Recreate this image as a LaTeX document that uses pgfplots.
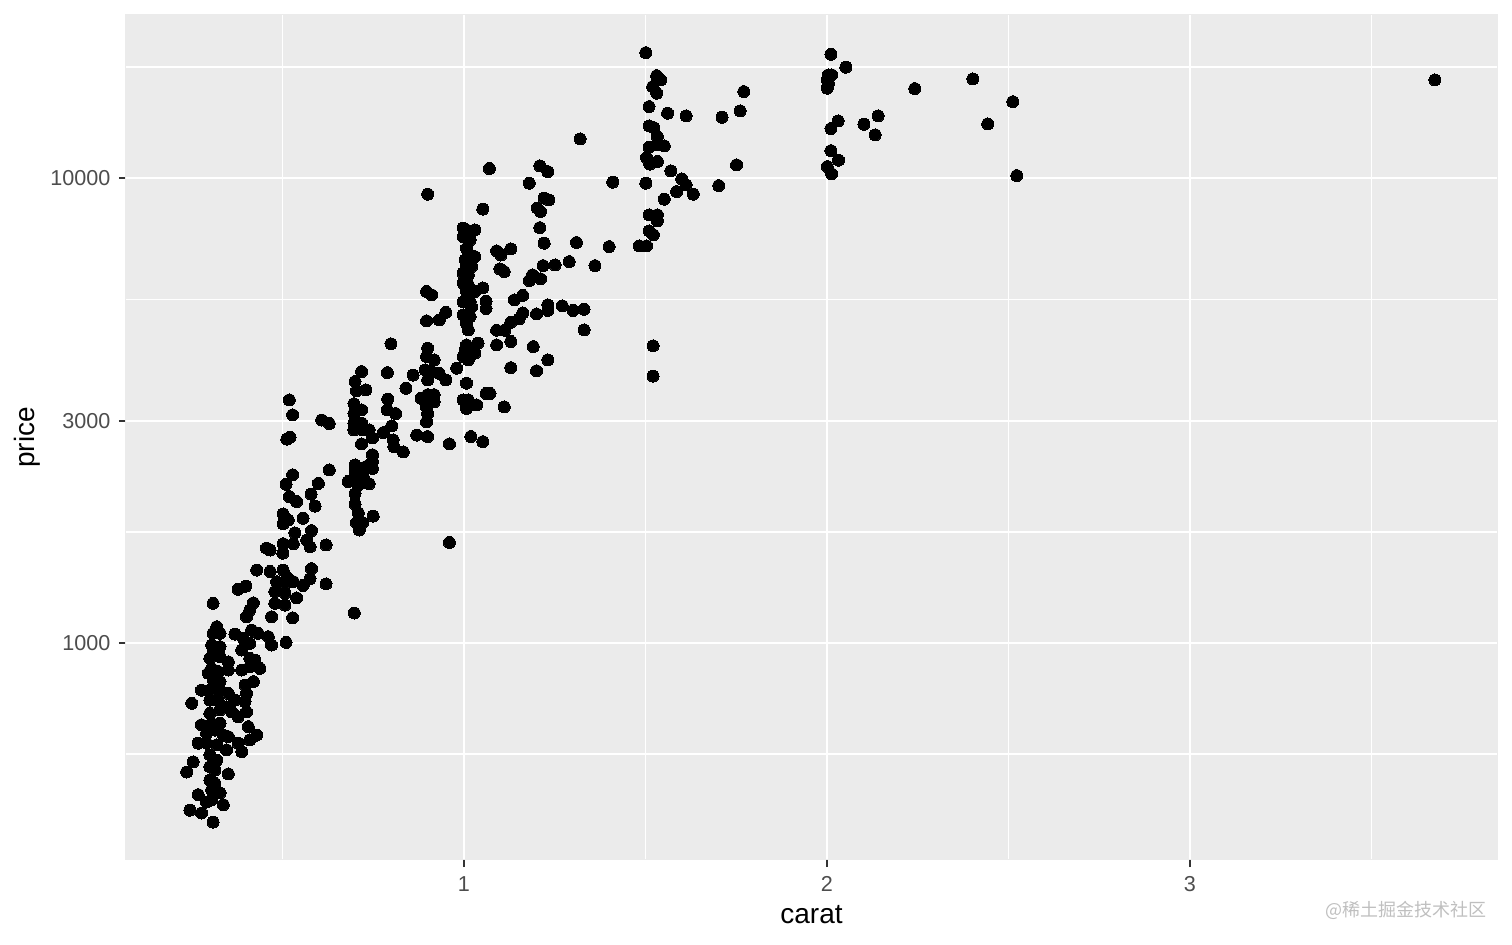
\documentclass[border=0pt]{standalone}
\usepackage{pgfplots}
\pgfplotsset{compat=1.18}
\usepackage{pgfplotstable}
\usepackage{fontspec}
\setmainfont{Liberation Sans}
\newfontfamily\cjk{Noto Sans CJK SC}
\definecolor{panel}{HTML}{EBEBEB}
\definecolor{grey20}{HTML}{333333}
\definecolor{grey30}{HTML}{4D4D4D}
\pgfplotstableread{
carat price
2.011 18450
2.052 17310
2.004 16660
2.013 16660
2.001 16250
2.004 15990
2.001 15600
2.242 15570
2.402 16330
2.512 14590
2.443 13070
2.523 10120
2.031 13260
2.011 12770
2.102 13050
2.141 13600
2.133 12380
2.011 11450
2.032 10920
2.001 10580
2.013 10205
3.675 16250
1.501 18600
1.531 16600
1.542 16250
1.520 15720
1.531 15220
1.771 15340
1.510 14240
1.561 13780
1.612 13600
1.711 13510
1.761 13940
1.510 12940
1.523 12830
1.533 12270
1.510 11640
1.533 11780
1.552 11720
1.503 11060
1.512 10710
1.533 10850
1.751 10670
1.570 10360
1.600 9955
1.612 9665
1.586 9350
1.632 9230
1.552 9005
1.501 9745
1.702 9630
1.510 8330
1.533 8330
1.533 8085
1.510 7695
1.522 7545
1.483 7145
1.503 7145
1.521 4355
1.521 3750
1.320 12130
1.070 10480
1.209 10620
1.231 10320
1.180 9745
1.410 9795
1.221 9050
1.234 8972
1.202 8615
1.211 8470
1.052 8570
1.209 7820
1.221 7240
1.310 7265
1.400 7120
1.090 6970
1.102 6830
1.129 7040
1.099 6375
1.111 6290
1.218 6480
1.251 6500
1.290 6610
1.361 6480
1.189 6190
1.180 6020
1.211 6070
1.052 5800
1.061 5430
1.061 5240
1.139 5468
1.162 5590
1.231 5335
1.231 5190
1.271 5310
1.301 5190
1.331 5220
1.200 5100
1.162 5125
1.152 4975
1.129 4895
1.113 4705
1.090 4705
1.331 4713
1.090 4375
1.129 4450
1.191 4340
1.231 4062
1.129 3910
1.200 3850
1.072 3440
1.061 3440
1.052 2710
1.111 3220
0.900 9230
0.998 7800
1.007 7733
1.030 7733
0.998 7480
1.017 7545
1.017 7360
1.007 7060
1.012 6890
1.030 6775
1.003 6666
1.007 6450
1.021 6450
0.998 6240
1.012 6190
0.998 5940
1.012 5890
1.007 5700
1.030 5700
0.998 5415
1.017 5415
1.021 5280
0.998 5076
1.017 5035
1.007 4870
1.012 4713
1.007 4375
1.003 4269
1.021 4305
1.039 4415
1.030 4200
0.998 4130
1.012 4062
0.980 3900
1.007 3620
0.998 3332
1.012 3332
1.021 3250
1.007 3195
1.035 3250
1.019 2780
0.897 5700
0.911 5605
0.950 5140
0.932 4952
0.897 4930
0.900 4305
0.897 4130
0.918 4062
0.893 3866
0.911 3835
0.932 3800
0.900 3679
0.950 3679
0.860 3770
0.840 3530
0.882 3360
0.900 3420
0.918 3420
0.918 3300
0.897 3220
0.900 3115
0.897 2990
0.870 2800
0.900 2780
0.960 2680
0.833 2575
0.960 1645
0.799 4400
0.718 3835
0.789 3815
0.700 3650
0.704 3485
0.730 3502
0.790 3345
0.789 3171
0.812 3115
0.801 2930
0.778 2835
0.697 3270
0.697 3115
0.718 3171
0.697 2970
0.718 2970
0.697 2872
0.721 2872
0.739 2872
0.748 2760
0.718 2680
0.805 2733
0.807 2645
0.748 2540
0.748 2455
0.730 2395
0.748 2375
0.700 2415
0.700 2330
0.723 2275
0.739 2200
0.704 2275
0.681 2225
0.709 2185
0.700 2095
0.700 1990
0.709 1905
0.704 1815
0.712 1750
0.721 1815
0.750 1875
0.519 3332
0.528 3095
0.608 3017
0.629 2965
0.512 2745
0.521 2770
0.629 2356
0.528 2300
0.510 2195
0.599 2205
0.579 2090
0.590 1970
0.519 2065
0.539 2015
0.502 1895
0.502 1805
0.516 1838
0.557 1855
0.580 1745
0.534 1725
0.567 1665
0.576 1610
0.530 1635
0.502 1635
0.501 1560
0.466 1585
0.456 1600
0.620 1625
0.429 1435
0.466 1425
0.502 1435
0.512 1385
0.576 1375
0.580 1445
0.620 1340
0.698 1160
0.399 1325
0.378 1305
0.309 1217
0.484 1355
0.507 1345
0.530 1355
0.557 1330
0.479 1290
0.507 1280
0.539 1250
0.479 1217
0.507 1207
0.470 1139
0.528 1133
0.510 1003
0.420 1220
0.410 1177
0.401 1139
0.319 1084
0.309 1049
0.328 1049
0.369 1045
0.392 1024
0.415 1066
0.433 1049
0.410 998
0.461 1032
0.470 990
0.305 990
0.328 982
0.309 958
0.300 927
0.328 934
0.351 911
0.388 966
0.410 927
0.424 919
0.388 875
0.410 889
0.438 882
0.305 882
0.296 861
0.323 868
0.351 875
0.309 833
0.328 826
0.300 792
0.328 792
0.277 792
0.397 812
0.420 826
0.401 779
0.397 748
0.401 711
0.378 694
0.406 661
0.429 634
0.410 619
0.351 779
0.369 754
0.360 711
0.346 729
0.250 742
0.300 754
0.323 754
0.300 706
0.328 718
0.305 672
0.328 672
0.277 667
0.314 650
0.291 640
0.337 634
0.351 629
0.268 609
0.291 609
0.319 604
0.346 589
0.388 584
0.378 609
0.300 575
0.319 560
0.300 542
0.314 533
0.254 555
0.236 528
0.351 523
0.300 507
0.314 499
0.305 483
0.268 472
0.305 460
0.337 449
0.245 437
0.277 431
0.309 412
0.328 476
0.291 455
}\diamonds
\begin{document}
\begin{tikzpicture}
\path (-63pt,-42.5pt) rectangle (693pt,430pt);
\begin{axis}[
  at={(0pt,0pt)}, anchor=south west,
  scale only axis, width=685.5pt, height=422.5pt,
  xmin=0.069, xmax=3.846,
  ymode=log, ymin=341.6, ymax=22415,
  axis background/.style={fill=panel},
  axis line style={draw=panel, line width=0pt},
  xtick={1,2,3}, xticklabels={1,2,3},
  ytick={1000,3000,10000}, yticklabels={1000,3000,10000},
  minor xtick={0.5,1.5,2.5,3.5},
  minor ytick={577.4,1732,5477,17321},
  grid=both,
  major grid style={white, line width=1.3pt},
  minor grid style={white, line width=0.65pt},
  xtick pos=bottom, ytick pos=left,
  tick align=outside,
  major tick length=3.6pt, minor tick length=0pt,
  major tick style={draw=grey20, line width=1.3pt},
  minor tick style={draw=none},
  ticklabel style={font=\fontsize{10.8}{13}\selectfont, text=grey30},
  xticklabel style={anchor=north, inner sep=0pt, yshift=-4.5pt},
  yticklabel style={anchor=east, inner sep=0pt, xshift=-4pt},
  xlabel={carat}, ylabel={price},
  every axis x label/.style={at={(axis description cs:0.5,-0.0651)}, anchor=center, font=\fontsize{14}{16}\selectfont},
  every axis y label/.style={at={(axis description cs:-0.0722,0.5)}, rotate=90, anchor=center, font=\fontsize{14}{16}\selectfont},
]
\addplot[only marks, mark=*, mark size=3pt, mark options={draw=black, fill=black, line width=0pt}] table[x=carat, y=price] {\diamonds};
\end{axis}
\node[anchor=east, inner sep=0pt, text=black!25, font=\cjk\fontsize{9}{11}\selectfont] at (680.5pt,-25pt) {@稀土掘金技术社区};
\end{tikzpicture}
\end{document}
